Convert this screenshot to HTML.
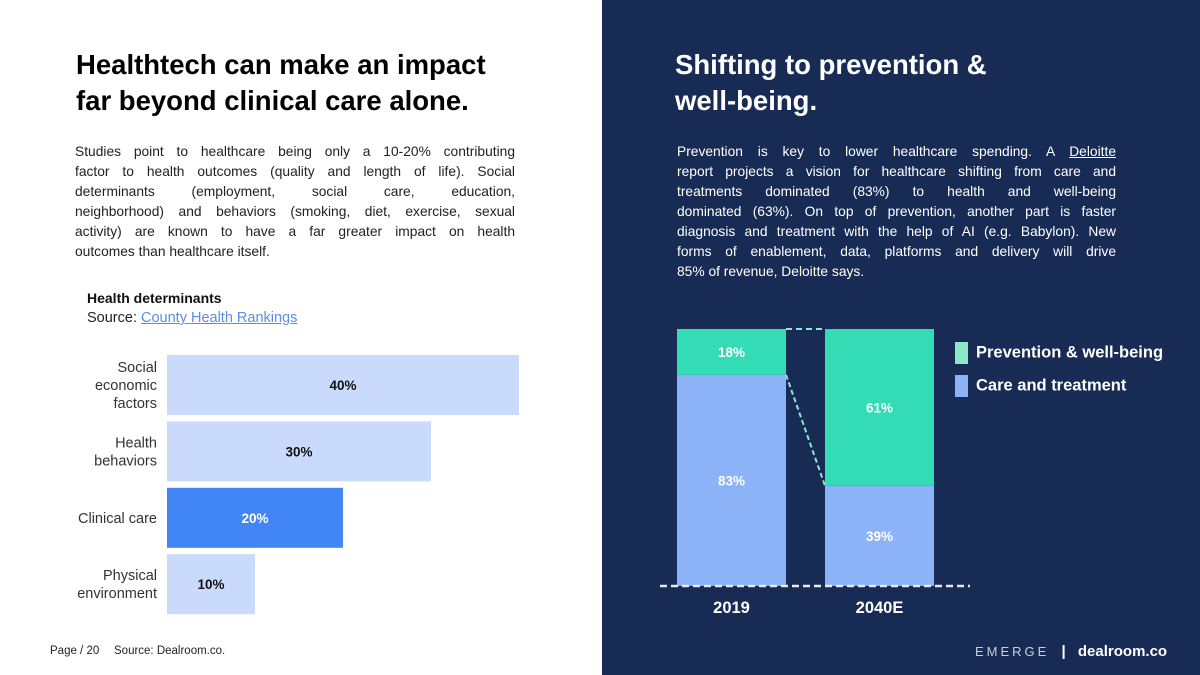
<!DOCTYPE html>
<html><head><meta charset="utf-8"><style>
*{margin:0;padding:0;box-sizing:border-box}
body{width:1200px;height:675px;position:relative;overflow:hidden;font-family:"Liberation Sans",sans-serif;background:#fff}
.abs{position:absolute}
.line{display:block;text-align:justify;text-align-last:justify;white-space:nowrap}
.last{text-align-last:left}
.para{font-size:13.8px;line-height:20px}
</style></head><body>
<div class="abs" style="left:0;top:0;width:602px;height:675px;background:#fff"></div>
<div class="abs" style="left:602px;top:0;width:598px;height:675px;background:#172b54"></div>

<div class="abs" style="left:76px;top:47px;font-size:27.5px;font-weight:bold;line-height:36px;color:#000">Healthtech can make an impact<br>far beyond clinical care alone.</div>
<div class="abs para" style="left:75px;top:142px;width:440px;color:#222">
<span class="line">Studies point to healthcare being only a 10-20% contributing</span>
<span class="line">factor to health outcomes (quality and length of life). Social</span>
<span class="line">determinants (employment, social care, education,</span>
<span class="line">neighborhood) and behaviors (smoking, diet, exercise, sexual</span>
<span class="line">activity) are known to have a far greater impact on health</span>
<span class="line last">outcomes than healthcare itself.</span>
</div>
<div class="abs" style="left:87px;top:290px;font-size:14px;font-weight:bold;color:#111">Health determinants</div>
<div class="abs" style="left:87px;top:310px;font-size:14.5px;color:#222">Source: <span style="color:#5b8ee6;text-decoration:underline">County Health Rankings</span></div>

<svg class="abs" id="hbar" style="left:0;top:340px" width="602" height="290"></svg>

<div class="abs" style="left:50px;top:645px;font-size:11.5px;color:#222">Page / 20</div>
<div class="abs" style="left:114px;top:645px;font-size:11.5px;color:#222">Source: Dealroom.co.</div>

<div class="abs" style="left:675px;top:47px;font-size:27.5px;font-weight:bold;line-height:36px;color:#fff">Shifting to prevention &amp;<br>well-being.</div>
<div class="abs para" style="left:677px;top:142px;width:439px;color:#fff">
<span class="line">Prevention is key to lower healthcare spending. A <span style="text-decoration:underline">Deloitte</span></span>
<span class="line">report projects a vision for healthcare shifting from care and</span>
<span class="line">treatments dominated (83%) to health and well-being</span>
<span class="line">dominated (63%). On top of prevention, another part is faster</span>
<span class="line">diagnosis and treatment with the help of AI (e.g. Babylon). New</span>
<span class="line">forms of enablement, data, platforms and delivery will drive</span>
<span class="line last">85% of revenue, Deloitte says.</span>
</div>

<svg class="abs" id="sbar" style="left:602px;top:300px" width="598" height="330"></svg>

<div class="abs" style="left:955px;top:342px;font-size:16.5px;font-weight:bold;color:#fff;line-height:20px"><span style="display:inline-block;width:13px;height:22px;background:#8ce8c8;vertical-align:middle;margin-right:8px"></span>Prevention &amp; well-being</div>
<div class="abs" style="left:955px;top:375px;font-size:16.5px;font-weight:bold;color:#fff;line-height:20px"><span style="display:inline-block;width:13px;height:22px;background:#8cb2f7;vertical-align:middle;margin-right:8px"></span>Care and treatment</div>

<div class="abs" style="left:975px;top:643px;font-size:15px;color:#fff"><span style="letter-spacing:3px;color:#c9cfdb;font-size:13px">EMERGE</span> <span style="margin:0 8px;font-weight:bold">|</span> <b>dealroom.co</b></div>

<script>
const hCategories=["Social economic factors","Health behaviors","Clinical care","Physical environment"];
const hLabelLines=[["Social","economic","factors"],["Health","behaviors"],["Clinical care"],["Physical","environment"]];
const hValues=[40,30,20,10];
const hHighlight=[false,false,true,false];

const sCategories=["2019","2040E"];
const sCare=[83,39];
const sPrevention=[18,61];

const NS="http://www.w3.org/2000/svg";
function mk(p,t,a){const e=document.createElementNS(NS,t);for(const k in a)e.setAttribute(k,a[k]);p.appendChild(e);return e;}

(function(){
 const svg=document.getElementById('hbar');
 const x0=167,pxPer=8.8,top=15,pitch=66.4,bh=60;
 const xs=v=>v*pxPer;
 hValues.forEach((v,i)=>{
  const y=top+i*pitch;
  const r=mk(svg,'rect',{x:x0,y:y,width:xs(v),height:bh,fill:hHighlight[i]?'#4285f4':'#c9dafc'});
  
  
  const t=mk(svg,'text',{x:x0+xs(v)/2,y:y+bh/2+5,'text-anchor':'middle','font-size':13.5,'font-weight':'bold',fill:hHighlight[i]?'#fff':'#111','font-family':'Liberation Sans, sans-serif'});
  t.textContent=v+'%';
  
  
  const lines=hLabelLines[i];
  lines.forEach((ln,j)=>{
   const lt=mk(svg,'text',{x:157,y:y+bh/2+5+(j-(lines.length-1)/2)*18,'text-anchor':'end','font-size':14.5,fill:'#333','font-family':'Liberation Sans, sans-serif'});
   lt.textContent=ln;
   
   
  });
 });
})();

(function(){
 const svg=document.getElementById('sbar');
 const base=286,H=257,bw=109,xs=[75,223];
 const ys=v=>v/100*H;
 const tops=[];
 sCategories.forEach((c,i)=>{
  const tot=sCare[i]+sPrevention[i];
  const hC=ys(sCare[i]/tot*100), hP=ys(sPrevention[i]/tot*100);
  const x=xs[i];
  const rc=mk(svg,'rect',{x:x,y:base-hC,width:bw,height:hC,fill:'#8cb2f7'});
  
  
  const rp=mk(svg,'rect',{x:x,y:base-hC-hP,width:bw,height:hP,fill:'#33dcb4'});
  
  
  tops.push(base-hC);
  [[sCare[i],base-hC/2],[sPrevention[i],base-hC-hP/2]].forEach(([v,yy])=>{
   const t=mk(svg,'text',{x:x+bw/2,y:yy+5,'text-anchor':'middle','font-size':13.5,'font-weight':'bold',fill:'#fff','font-family':'Liberation Sans, sans-serif'});
   t.textContent=v+'%';
   
   
  });
  const lt=mk(svg,'text',{x:x+bw/2,y:base+27,'text-anchor':'middle','font-size':16.5,'font-weight':'bold',fill:'#fff','font-family':'Liberation Sans, sans-serif'});
  lt.textContent=c;
  
  
 });
 const bl=mk(svg,'line',{x1:58,x2:368,y1:base,y2:base,stroke:'#e6e9f0','stroke-width':2.5,'stroke-dasharray':'7,4'});
 
 
 const tl=mk(svg,'line',{x1:xs[0]+bw,x2:xs[1],y1:base-H,y2:base-H,stroke:'#8ce8d0','stroke-width':2,'stroke-dasharray':'6,4'});
 
 
 const cl=mk(svg,'line',{x1:xs[0]+bw,x2:xs[1],y1:tops[0],y2:tops[1],stroke:'#8ce8d0','stroke-width':2,'stroke-dasharray':'5,3'});
 
 
})();
</script>
</body></html>
